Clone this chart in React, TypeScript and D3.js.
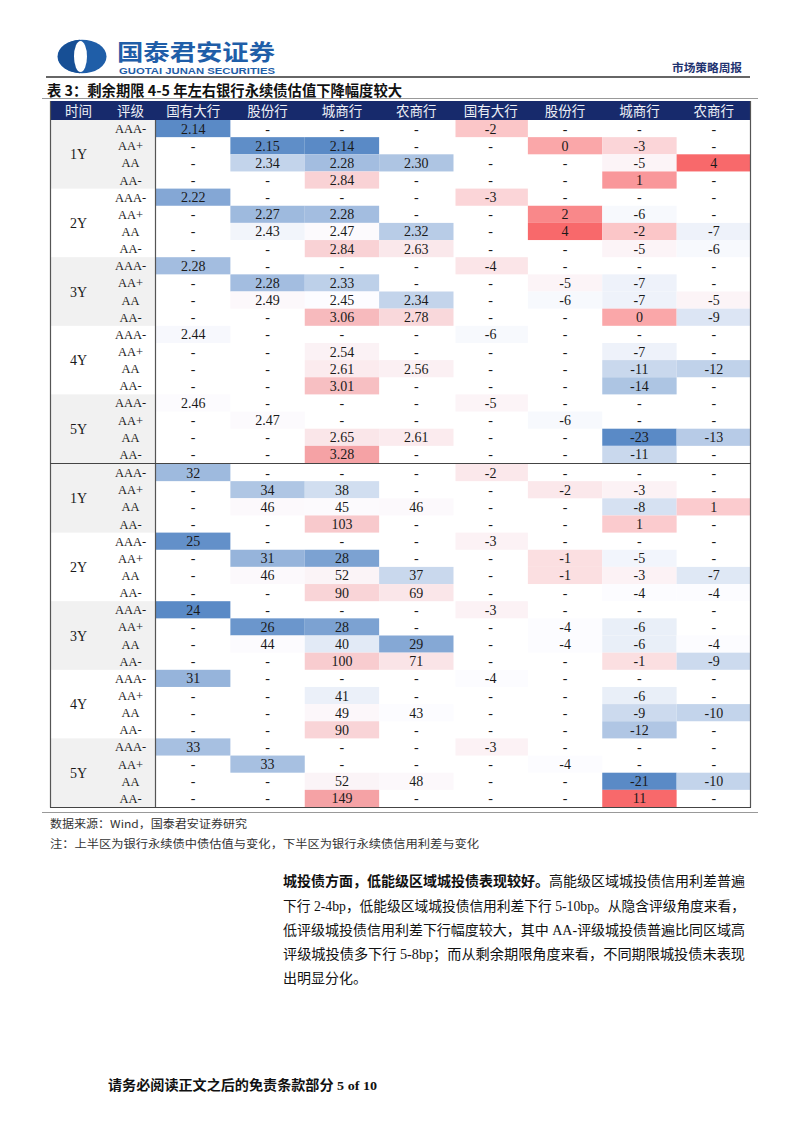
import React from "react";
import * as d3 from "d3";

type V = number | null;
const _ = null;

const tenors = ["1Y", "2Y", "3Y", "4Y", "5Y"];
const ratings = ["AAA-", "AA+", "AA", "AA-"];
const bankTypes = ["国有大行", "股份行", "城商行", "农商行"];
const labelHeaders = ["时间", "评级"];

// upper half: ChinaBond valuation (%) and change (bp)
const valuation: V[][] = [
  [2.14, _, _, _], [_, 2.15, 2.14, _], [_, 2.34, 2.28, 2.3], [_, _, 2.84, _],
  [2.22, _, _, _], [_, 2.27, 2.28, _], [_, 2.43, 2.47, 2.32], [_, _, 2.84, 2.63],
  [2.28, _, _, _], [_, 2.28, 2.33, _], [_, 2.49, 2.45, 2.34], [_, _, 3.06, 2.78],
  [2.44, _, _, _], [_, _, 2.54, _], [_, _, 2.61, 2.56], [_, _, 3.01, _],
  [2.46, _, _, _], [_, 2.47, _, _], [_, _, 2.65, 2.61], [_, _, 3.28, _],
];
const valuationChg: V[][] = [
  [-2, _, _, _], [_, 0, -3, _], [_, _, -5, 4], [_, _, 1, _],
  [-3, _, _, _], [_, 2, -6, _], [_, 4, -2, -7], [_, _, -5, -6],
  [-4, _, _, _], [_, -5, -7, _], [_, -6, -7, -5], [_, _, 0, -9],
  [-6, _, _, _], [_, _, -7, _], [_, _, -11, -12], [_, _, -14, _],
  [-5, _, _, _], [_, -6, _, _], [_, _, -23, -13], [_, _, -11, _],
];
// lower half: credit spread (bp) and change (bp)
const spread: V[][] = [
  [32, _, _, _], [_, 34, 38, _], [_, 46, 45, 46], [_, _, 103, _],
  [25, _, _, _], [_, 31, 28, _], [_, 46, 52, 37], [_, _, 90, 69],
  [24, _, _, _], [_, 26, 28, _], [_, 44, 40, 29], [_, _, 100, 71],
  [31, _, _, _], [_, _, 41, _], [_, _, 49, 43], [_, _, 90, _],
  [33, _, _, _], [_, 33, _, _], [_, _, 52, 48], [_, _, 149, _],
];
const spreadChg: V[][] = [
  [-2, _, _, _], [_, -2, -3, _], [_, _, -8, 1], [_, _, 1, _],
  [-3, _, _, _], [_, -1, -5, _], [_, -1, -3, -7], [_, _, -4, -4],
  [-3, _, _, _], [_, -4, -6, _], [_, -4, -6, -4], [_, _, -1, -9],
  [-4, _, _, _], [_, _, -6, _], [_, _, -9, -10], [_, _, -12, _],
  [-3, _, _, _], [_, -4, _, _], [_, _, -21, -10], [_, _, 11, _],
];

const titleText = "表 3：剩余期限 4-5 年左右银行永续债估值下降幅度较大";
const sourceText = "数据来源：Wind，国泰君安证券研究";
const noteText = "注：上半区为银行永续债中债估值与变化，下半区为银行永续债信用利差与变化";
const paraBold = "城投债方面，低能级区域城投债表现较好。";
const paraLines = [
  "高能级区域城投债信用利差普遍",
  "下行 2-4bp，低能级区域城投债信用利差下行 5-10bp。从隐含评级角度来看，",
  "低评级城投债信用利差下行幅度较大，其中 AA-评级城投债普遍比同区域高",
  "评级城投债多下行 5-8bp；而从剩余期限角度来看，不同期限城投债未表现",
  "出明显分化。",
];
const footerText = "请务必阅读正文之后的免责条款部分 5 of 10";

const BLUE = "#5A8AC6";
const WHITE = "#FCFCFF";
const RED = "#F8696B";
const RED_SOFT = "#F5A2A5";
const NAVY = "#172a6c";
const BRAND = "#1f5ea8";

const locale = d3.formatLocale({
  decimal: ".",
  thousands: ",",
  grouping: [3],
  currency: ["", ""],
  minus: "-",
});

function makeScale(data: V[][], redEnd: string) {
  const vals = (data.flat().filter((v) => v != null) as number[]).sort(d3.ascending);
  const lo = vals[0];
  const hi = vals[vals.length - 1];
  const mid = d3.quantileSorted(vals, 0.5) as number;
  return d3
    .scaleLinear<string>()
    .domain([lo, mid, hi])
    .range([BLUE, WHITE, redEnd])
    .interpolate(d3.interpolateRgb);
}

const X0 = 50;
const XT = 105;
const XG = 156;
const X1 = 751;
const HEAD_TOP = 101;
const HEAD_BOT = 120;
const SEP = 463.5;
const BOTTOM = 807;

const serif = "'Liberation Serif', 'Noto Sans CJK SC', serif";
const cjk = "'Noto Sans CJK SC', sans-serif";

export default function App() {
  const colX = d3.scaleBand<number>().domain(d3.range(8)).range([XG, X1]);
  const halves = [
    d3.scaleLinear().domain([0, 20]).range([HEAD_BOT, SEP - 0.5]),
    d3.scaleLinear().domain([0, 20]).range([SEP + 0.5, BOTTOM]),
  ];
  const blocks = [
    { data: valuation, half: 0, side: 0, fmt: locale.format(".2f"), red: RED_SOFT },
    { data: valuationChg, half: 0, side: 1, fmt: locale.format("d"), red: RED },
    { data: spread, half: 1, side: 0, fmt: locale.format("d"), red: RED_SOFT },
    { data: spreadChg, half: 1, side: 1, fmt: locale.format("d"), red: RED },
  ];
  const headers = [...bankTypes, ...bankTypes];

  return (
    <div style={{ position: "absolute", left: 0, top: 0 }}>
      <svg width={802} height={1133} style={{ display: "block", background: "#fff" }}>
        {/* logo */}
        <g>
          <ellipse cx={82} cy={56.5} rx={24.5} ry={16.8} fill={BRAND} />
          <path d="M58 56.5 A24.5 16.8 0 0 1 80 39.8 L80 73.2 A24.5 16.8 0 0 1 58 56.5 Z" fill="#174f95" />
          <ellipse cx={80.5} cy={56.5} rx={6.5} ry={15.5} fill="#fff" />
          <text x={117} y={59.5} fontFamily={cjk} fontWeight={700} fontSize={21.5} fill={BRAND} textLength={158} lengthAdjust="spacingAndGlyphs">
            国泰君安证券
          </text>
          <text x={119} y={73.5} fontFamily="'Liberation Sans', Arial, sans-serif" fontWeight={700} fontSize={9.5} fill={BRAND} textLength={156} lengthAdjust="spacingAndGlyphs">
            GUOTAI JUNAN SECURITIES
          </text>
        </g>
        <text x={672} y={71.5} fontFamily={cjk} fontWeight={700} fontSize={11.5} fill="#1f3370" textLength={70} lengthAdjust="spacingAndGlyphs">
          市场策略周报
        </text>
        <line x1={46} x2={750} y1={77} y2={77} stroke="#333" strokeWidth={1.3} />

        {/* title */}
        <text x={47} y={95.5} fontFamily={cjk} fontWeight={700} fontSize={14.5} fill="#111" textLength={355} lengthAdjust="spacingAndGlyphs">
          {titleText}
        </text>
        <line x1={42} x2={758} y1={98.5} y2={98.5} stroke="#999" strokeWidth={1} />

        {/* header row */}
        <rect x={X0} y={HEAD_TOP} width={X1 - X0} height={HEAD_BOT - HEAD_TOP} fill={NAVY} />
        {labelHeaders.map((h, i) => (
          <text key={h} x={i === 0 ? (X0 + XT) / 2 + 1 : (XT + XG) / 2} y={115.5} textAnchor="middle" fontFamily={cjk} fontSize={13.5} fill="#eef0f6">
            {h}
          </text>
        ))}
        {headers.map((h, i) => (
          <text key={i} x={(colX(i) as number) + colX.bandwidth() / 2} y={115.5} textAnchor="middle" fontFamily={cjk} fontSize={13.5} fill="#eef0f6">
            {h}
          </text>
        ))}

        {/* label bands */}
        {halves.map((ys, hi) =>
          tenors.map((t, ti) => (
            <g key={`${hi}-${ti}`}>
              {ti % 2 === 0 && (
                <rect x={X0 + 1} y={ys(ti * 4)} width={XG - X0 - 2} height={ys(ti * 4 + 4) - ys(ti * 4)} fill="#f1f1f1" />
              )}
              <text x={(X0 + XT) / 2 + 1} y={ys(ti * 4 + 2) + 5} textAnchor="middle" fontFamily={serif} fontSize={14} fill="#1a1a1a">
                {t}
              </text>
              {ratings.map((r, ri) => (
                <text key={r} x={(XT + XG) / 2} y={ys(ti * 4 + ri + 0.5) + 4.5} textAnchor="middle" fontFamily={serif} fontSize={12.5} fill="#1a1a1a">
                  {r}
                </text>
              ))}
            </g>
          ))
        )}

        {/* data cells */}
        {blocks.map((b, bi) => {
          const color = makeScale(b.data, b.red);
          const ys = halves[b.half];
          return (
            <g key={bi}>
              {b.data.map((row, ri) =>
                row.map((v, ci) => {
                  const col = b.side * 4 + ci;
                  const x = colX(col) as number;
                  const y0 = ys(ri);
                  const y1 = ys(ri + 1);
                  return (
                    <g key={`${ri}-${ci}`}>
                      {v != null && (
                        <rect x={x + (col === 4 ? 2 : 0)} y={y0} width={colX.bandwidth() - (col === 4 ? 2 : 0)} height={y1 - y0} fill={color(v)} />
                      )}
                      <text x={x + colX.bandwidth() / 2} y={(y0 + y1) / 2 + 5} textAnchor="middle" fontFamily={serif} fontSize={14} fill="#1a1a1a">
                        {v == null ? "-" : b.fmt(v)}
                      </text>
                    </g>
                  );
                })
              )}
            </g>
          );
        })}

        {/* table rules */}
        <line x1={X0 + 0.5} x2={X0 + 0.5} y1={HEAD_TOP} y2={BOTTOM + 0.5} stroke="#555" strokeWidth={1.2} />
        <line x1={X1 - 0.5} x2={X1 - 0.5} y1={HEAD_TOP} y2={BOTTOM + 0.5} stroke="#555" strokeWidth={1.2} />
        <line x1={XG - 0.5} x2={XG - 0.5} y1={HEAD_BOT} y2={BOTTOM} stroke="#555" strokeWidth={1.2} />
        <line x1={X0} x2={X1} y1={SEP} y2={SEP} stroke="#444" strokeWidth={1.2} />
        <line x1={X0} x2={X1} y1={BOTTOM + 0.5} y2={BOTTOM + 0.5} stroke="#444" strokeWidth={1.2} />
        <line x1={42} x2={758} y1={812.5} y2={812.5} stroke="#999" strokeWidth={1} />

        {/* source & note */}
        <text x={50} y={828} fontFamily={cjk} fontSize={11} fill="#333" textLength={197} lengthAdjust="spacingAndGlyphs">
          {sourceText}
        </text>
        <text x={50} y={847.5} fontFamily={cjk} fontSize={11} fill="#333" textLength={429} lengthAdjust="spacingAndGlyphs">
          {noteText}
        </text>

        {/* paragraph */}
        <text x={283} y={886} fontFamily={serif} fontSize={14} fill="#111" textLength={462} lengthAdjust="spacingAndGlyphs">
          <tspan fontWeight={700}>{paraBold}</tspan>
          <tspan>{paraLines[0]}</tspan>
        </text>
        {paraLines.slice(1).map((l, i) => (
          <text key={i} x={283} y={910.5 + i * 24.3} fontFamily={serif} fontSize={14} fill="#111" textLength={i < 3 ? 462 : undefined} lengthAdjust="spacingAndGlyphs">
            {l}
          </text>
        ))}

        {/* footer */}
        <text x={108} y={1090} fontFamily={serif} fontWeight={700} fontSize={13.5} fill="#111" textLength={269} lengthAdjust="spacingAndGlyphs">
          {footerText}
        </text>
      </svg>
    </div>
  );
}
